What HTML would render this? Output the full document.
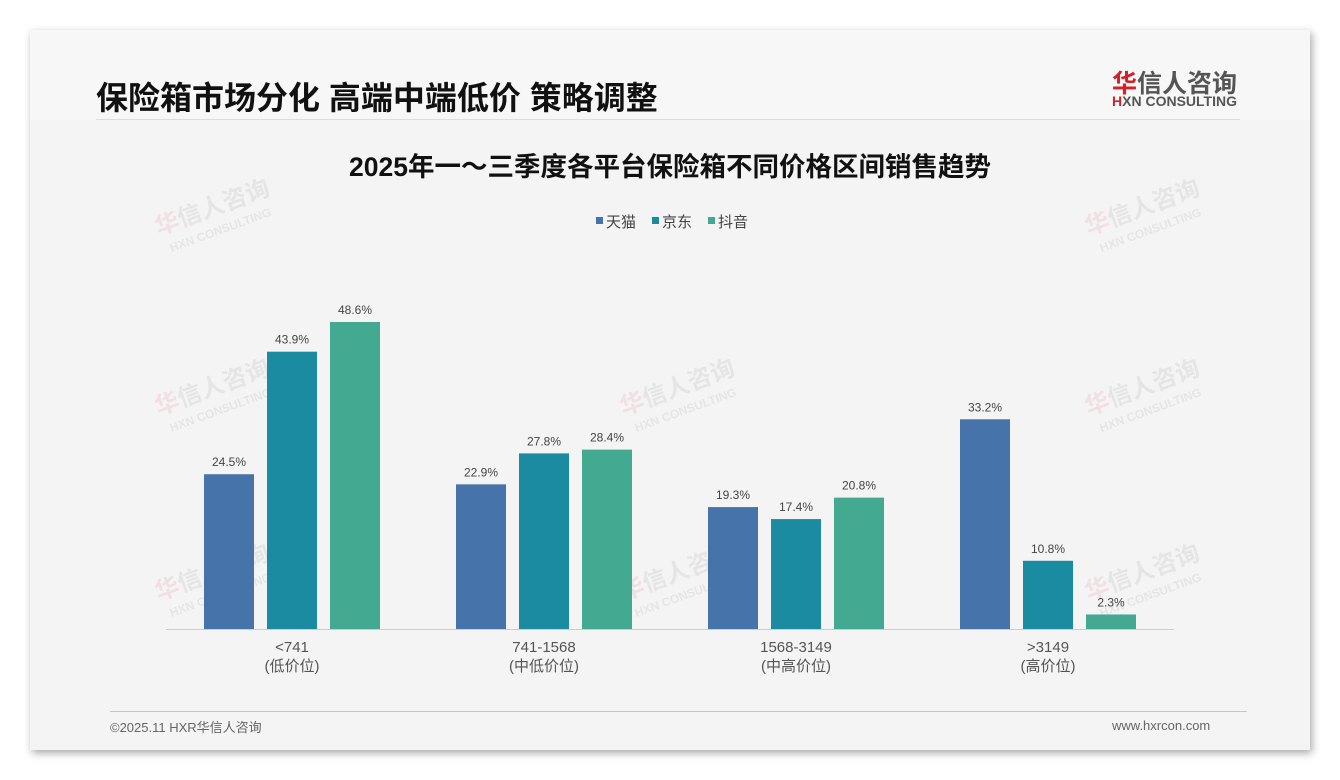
<!DOCTYPE html>
<html><head><meta charset="utf-8">
<style>
html,body{margin:0;padding:0;width:1340px;height:780px;background:#fff;overflow:hidden;font-family:"Liberation Sans","Noto Sans CJK SC",sans-serif}
#slide{position:absolute;left:30px;top:30px;width:1280px;height:720px;background:#f4f4f4;box-shadow:2px 3px 8px rgba(0,0,0,0.35)}
.t{position:absolute;white-space:nowrap}
</style></head><body>
<div id="slide">
  <div class="t" style="left:0;top:0;width:1280px;height:90px;background:#f7f7f7"></div>
  <div class="t" style="left:66px;top:43px;font-size:32px;font-weight:bold;color:#111">保险箱市场分化 高端中端低价 策略调整</div>
  <div class="t" style="left:66px;top:89px;width:1144px;height:1px;background:#ddd"></div>
  <div class="t" style="left:1082px;top:34px;font-size:25px;font-weight:bold;color:#555"><span style="color:#d0222a">华</span>信人咨询</div>
  <div class="t" style="left:1082px;top:63px;font-size:14px;font-weight:bold;color:#555"><span style="color:#d0222a">H</span>XN CONSULTING</div>
  <div class="t" style="left:80px;top:681px;width:1137px;height:1px;background:#b8c8d8"></div>
  <div class="t" style="left:80px;top:687px;font-size:13px;color:#666">©2025.11 HXR华信人咨询</div>
  <div class="t" style="left:1082px;top:688px;font-size:13px;color:#666">www.hxrcon.com</div>
</div>
<svg id="chart" width="1340" height="780" style="position:absolute;left:0;top:0"></svg>
<script>
const categories=["<741","741-1568","1568-3149",">3149"];
const subLabels=["(低价位)","(中低价位)","(中高价位)","(高价位)"];
const seriesNames=["天猫","京东","抖音"];
const tmall=[24.5,22.9,19.3,33.2];
const jd=[43.9,27.8,17.4,10.8];
const douyin=[48.6,28.4,20.8,2.3];
const series=[tmall,jd,douyin];
const colors=["#4673a9","#1b8ba1","#43a991"];
const svg=document.getElementById('chart');
const NS="http://www.w3.org/2000/svg";
function mk(tag,attrs,txt){const e=document.createElementNS(NS,tag);for(const k in attrs)e.setAttribute(k,attrs[k]);if(txt!==undefined)e.textContent=txt;svg.appendChild(e);return e;}
const base=629, scale=307/48.6, x0=166, x1=1174;
const groupW=(x1-x0)/categories.length;
function xc(i){return x0+groupW*(i+0.5);}
function y(v){return base-v*scale;}
const FF='"Liberation Sans","Noto Sans CJK SC",sans-serif';
[[215,215],[680,395],[215,395],[1145,215],[1145,395],[215,580],[680,580],[1145,580]].forEach(p=>{
  const g=document.createElementNS(NS,'g');g.setAttribute('transform',`translate(${p[0]},${p[1]}) rotate(-20)`);g.setAttribute('opacity','0.09');
  
  
  g.innerHTML=`<text x="0" y="0" text-anchor="middle" font-size="24" font-weight="bold" fill="#555" font-family='${FF}'><tspan fill="#d0222a">华</tspan>信人咨询</text><text x="0" y="20" text-anchor="middle" font-size="12" font-weight="bold" fill="#555" font-family='${FF}'>HXN CONSULTING</text>`;
  svg.appendChild(g);
});
let e=mk('text',{x:670,y:176,'text-anchor':'middle','font-size':26.5,'font-weight':'bold',fill:'#111','font-family':FF},'2025年一～三季度各平台保险箱不同价格区间销售趋势');


const lx=[596,652,708];
seriesNames.forEach((n,i)=>{
  let r=mk('rect',{x:lx[i],y:217,width:7,height:7,fill:colors[i]});
  
  
  let t=mk('text',{x:lx[i]+10,y:227,'font-size':15,fill:'#444','font-family':FF},n);
  
  
});
e=mk('line',{x1:x0,y1:base+0.5,x2:x1,y2:base+0.5,stroke:'#ccc','stroke-width':1});


const bw=50, step=63;
categories.forEach((c,i)=>{
  series.forEach((s,j)=>{
    const bx=xc(i)+(j-1)*step-bw/2;
    let r=mk('rect',{x:bx,y:y(s[i]),width:bw,height:base-y(s[i]),fill:colors[j]});
    
    
    let t=mk('text',{x:bx+bw/2,y:y(s[i])-8,'text-anchor':'middle','font-size':12,fill:'#444','font-family':FF},s[i].toFixed(1)+'%');
    
    
  });
  let t=mk('text',{x:xc(i),y:652,'text-anchor':'middle','font-size':15,fill:'#555','font-family':FF},c);
  
  
  t=mk('text',{x:xc(i),y:671,'text-anchor':'middle','font-size':15,fill:'#555','font-family':FF},subLabels[i]);
  
  
});
</script>
</body></html>
